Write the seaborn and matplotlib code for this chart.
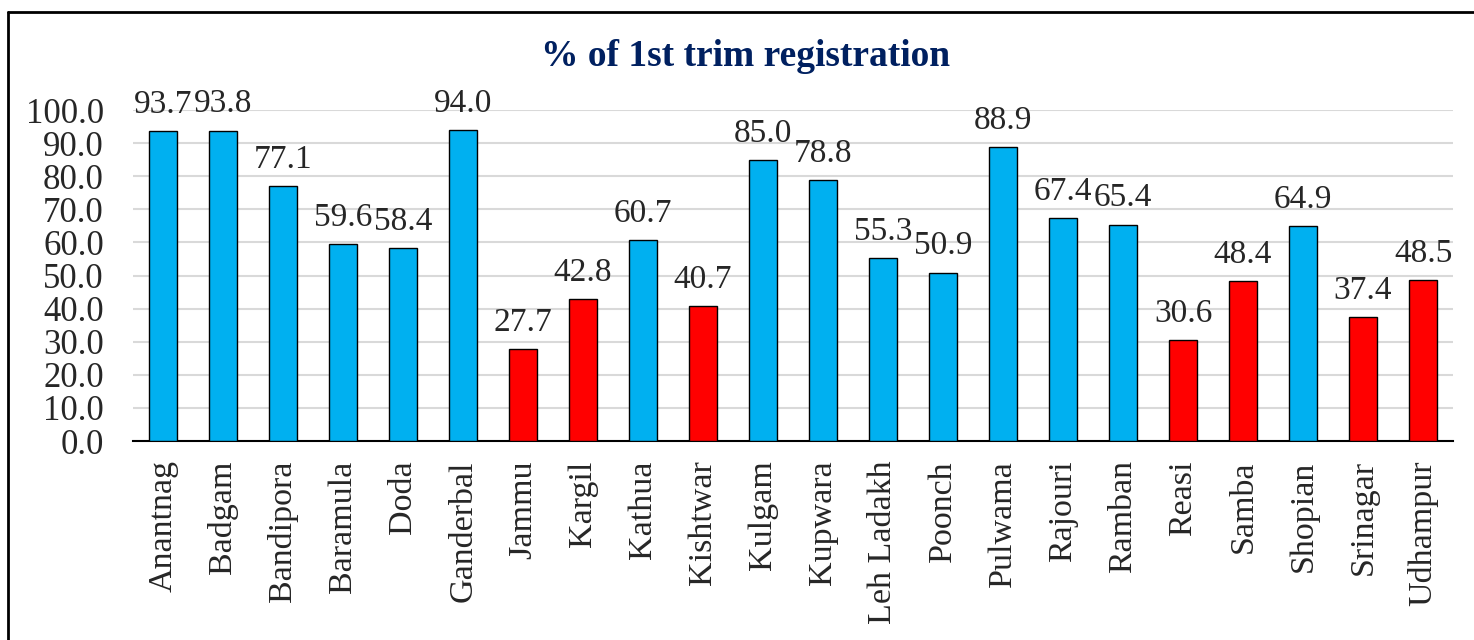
import matplotlib
matplotlib.use("Agg")
import matplotlib.pyplot as plt
import seaborn as sns
from matplotlib.lines import Line2D

# data
districts = ["Anantnag", "Badgam", "Bandipora", "Baramula", "Doda", "Ganderbal",
             "Jammu", "Kargil", "Kathua", "Kishtwar", "Kulgam", "Kupwara",
             "Leh Ladakh", "Poonch", "Pulwama", "Rajouri", "Ramban", "Reasi",
             "Samba", "Shopian", "Srinagar", "Udhampur"]
pct_registration = [93.7, 93.8, 77.1, 59.6, 58.4, 94.0, 27.7, 42.8, 60.7, 40.7,
                    85.0, 78.8, 55.3, 50.9, 88.9, 67.4, 65.4, 30.6, 48.4, 64.9,
                    37.4, 48.5]
low_flag = [False, False, False, False, False, False, True, True, False, True,
            False, False, False, False, False, False, False, True, True, False,
            True, True]

blue = "#00B0F0"
red = "#FF0000"
colors = [red if f else blue for f in low_flag]

sns.set_style("white")
plt.rcParams['font.family'] = ['Liberation Serif', 'DejaVu Serif']

fig = plt.figure(figsize=(14.74, 6.4), dpi=100)
ax = fig.add_axes([0.0902, 0.3109, 0.8956, 0.5172])

sns.barplot(x=districts, y=pct_registration, hue=districts, palette=colors,
            width=0.47, edgecolor="black", linewidth=1.0, legend=False,
            saturation=1, ax=ax, zorder=3)

ax.set_ylim(0, 100)
ax.set_xlim(-0.5, len(districts) - 0.5)
ax.set_yticks(range(0, 101, 10))
ax.set_yticklabels([f"{v:.1f}" for v in range(0, 101, 10)])
ax.yaxis.grid(True, color="#D9D9D9", linewidth=1.5, zorder=0)
ax.set_axisbelow(True)
for s in ["top", "right", "left"]:
    ax.spines[s].set_visible(False)
ax.spines["bottom"].set_color("black")
ax.spines["bottom"].set_linewidth(1.5)
ax.tick_params(axis="y", length=0, pad=21, labelsize=25)
ax.tick_params(axis="x", length=0, pad=14, labelsize=24.5, labelrotation=90)
ax.set_xlabel("")
ax.set_ylabel("")

for i, v in enumerate(pct_registration):
    ax.annotate(f"{v:.1f}", (i, v), xytext=(0, 8), textcoords="offset points",
                ha="center", va="bottom", fontsize=24, annotation_clip=False)

fig.text(0.506, 0.911, "% of 1st trim registration", ha="center", va="center",
         fontsize=27, fontweight="bold", color="#002060")

# outer chart frame (top and left edges visible in the crop)
fig.add_artist(Line2D([8 / 1474, 1.0], [1 - 12 / 640, 1 - 12 / 640],
                      transform=fig.transFigure, color="black", linewidth=2))
fig.add_artist(Line2D([8 / 1474, 8 / 1474], [0.0, 1 - 12 / 640],
                      transform=fig.transFigure, color="black", linewidth=2))

fig.savefig("out.png", dpi=100)
